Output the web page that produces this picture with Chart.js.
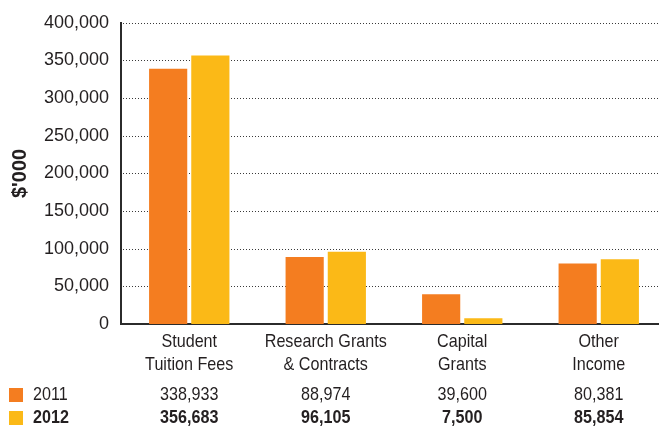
<!DOCTYPE html>
<html>
<head>
<meta charset="utf-8">
<script src="https://cdn.jsdelivr.net/npm/chart.js@4"></script>
<style>
  html, body { margin: 0; padding: 0; background: #fff; }
  #wrap { width: 659px; height: 428px; overflow: hidden; position: relative; }
  #wrap canvas { position: absolute; left: 0; top: 0; }
</style>
</head>
<body>
<div id="wrap"><canvas id="incomeChart" width="667" height="428"></canvas></div>
<script>
const categories = [['Student', 'Tuition Fees'], ['Research Grants', '& Contracts'], ['Capital', 'Grants'], ['Other', 'Income']];
const years = ['2011', '2012'];
const values2011 = [338933, 88974, 39600, 80381];
const values2012 = [356683, 96105, 7500, 85854];
const yTicks = [0, 50000, 100000, 150000, 200000, 250000, 300000, 350000, 400000];

const ORANGE = '#f47d20';
const YELLOW = '#fbb917';
const INK = '#231f20';
const FONT = '"Liberation Sans", Arial, sans-serif';
const SQUEEZE = 0.85; // horizontal squeeze to get a condensed look

function narrowText(ctx, text, x, y, align) {
    ctx.save();
    ctx.translate(x, y);
    ctx.scale(SQUEEZE, 1);
    ctx.textAlign = align;
    ctx.fillText(text, 0, 0);
    ctx.restore();
}

// dotted horizontal grid behind the bars
const dottedGrid = {
    id: 'dottedGrid',
    beforeDatasetsDraw(chart) {
        const ctx = chart.ctx;
        const area = chart.chartArea;
        const yScale = chart.scales.y;
        ctx.save();
        ctx.strokeStyle = '#3a3a3a';
        ctx.lineWidth = 1;
        ctx.setLineDash([1, 2]);
        yTicks.slice(1).forEach(v => {
            const y = Math.round(yScale.getPixelForValue(v)) + 0.5;
            ctx.beginPath();
            ctx.moveTo(area.left + 2, y);
            ctx.lineTo(area.right, y);
            ctx.stroke();
        });
        ctx.restore();
    }
};

// category names under the axis and the value table below them
const tablePlugin = {
    id: 'valueTable',
    afterDraw(chart) {
        const ctx = chart.ctx;
        const xScale = chart.scales.x;
        ctx.save();
        ctx.textBaseline = 'middle';
        ctx.fillStyle = INK;
        ctx.font = '19px ' + FONT;
        categories.forEach((lines, i) => {
            const cx = xScale.getPixelForValue(i);
            lines.forEach((line, j) => narrowText(ctx, line, cx, 342 + j * 23, 'center'));
        });

        const rows = [
            { label: years[0], data: values2011, color: ORANGE, weight: 'normal', y: 395 },
            { label: years[1], data: values2012, color: YELLOW, weight: 'bold', y: 418 }
        ];
        rows.forEach(row => {
            ctx.fillStyle = row.color;
            ctx.fillRect(9, row.y - 7, 14, 14);
            ctx.fillStyle = INK;
            ctx.font = row.weight + ' 19px ' + FONT;
            narrowText(ctx, row.label, 33, row.y, 'left');
            row.data.forEach((v, i) => {
                narrowText(ctx, v.toLocaleString('en-US'), xScale.getPixelForValue(i), row.y, 'center');
            });
        });
        ctx.restore();
    }
};

new Chart(document.getElementById('incomeChart'), {
    type: 'bar',
    data: {
        labels: categories,
        datasets: [
            { label: years[0], data: values2011, backgroundColor: ORANGE },
            { label: years[1], data: values2012, backgroundColor: YELLOW }
        ]
    },
    options: {
        responsive: false,
        animation: false,
        layout: { padding: { top: 22, right: 0, bottom: 44, left: 0 } },
        datasets: {
            bar: { categoryPercentage: 0.618, barPercentage: 0.905 }
        },
        plugins: {
            legend: { display: false },
            tooltip: { enabled: false }
        },
        scales: {
            x: {
                grid: { display: false, drawTicks: false },
                border: { display: true, color: '#2b2b2b', width: 2 },
                ticks: { display: false },
                afterFit(scale) { scale.height = 60; }
            },
            y: {
                min: 0,
                max: 400000,
                afterBuildTicks(scale) { scale.ticks = yTicks.map(v => ({ value: v })); },
                grid: { display: false, drawTicks: false },
                border: { display: true, color: '#2b2b2b', width: 2 },
                ticks: {
                    color: INK,
                    padding: 12,
                    font: { family: FONT, size: 18 },
                    callback: v => v.toLocaleString('en-US')
                },
                title: {
                    display: true,
                    text: "$'000",
                    color: INK,
                    padding: { top: 8, bottom: 0 },
                    font: { family: FONT, size: 20, weight: 'bold' }
                },
                afterFit(scale) { scale.width = 121; }
            }
        }
    },
    plugins: [dottedGrid, tablePlugin]
});
</script>
</body>
</html>
